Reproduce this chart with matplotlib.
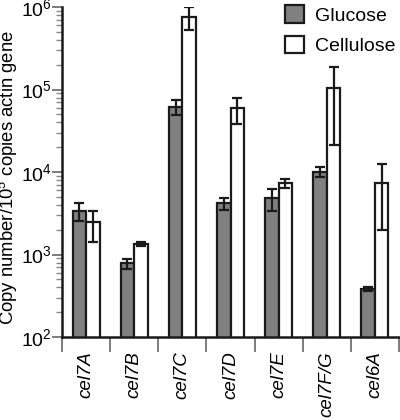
import numpy as np
import matplotlib
matplotlib.use('Agg')
import matplotlib.pyplot as plt
from matplotlib.ticker import LogLocator, NullFormatter, FixedLocator

plt.rcParams['font.family'] = ['Liberation Sans', 'DejaVu Sans']
plt.rcParams['mathtext.default'] = 'regular'

genes = ['cel7A', 'cel7B', 'cel7C', 'cel7D', 'cel7E', 'cel7F/G', 'cel6A']
glucose = [3400, 780, 62000, 4250, 4800, 10100, 380]
glucose_hi = [4170, 880, 74600, 4900, 6170, 11400, 400]
glucose_lo = [2550, 670, 49000, 3460, 3400, 8700, 360]
cellulose = [2450, 1340, 760000, 59000, 7300, 103000, 7300]
cellulose_hi = [3400, 1400, 990000, 79500, 8200, 186000, 12500]
cellulose_lo = [1430, 1280, 532000, 38000, 6450, 21200, 1980]

fig = plt.figure(figsize=(4, 4.2), dpi=100)
ax = fig.add_axes([0.155, 0.1976, 0.8425, 0.7857])

x = np.arange(len(genes))
w = 0.28
g_err = [np.array(glucose) - np.array(glucose_lo), np.array(glucose_hi) - np.array(glucose)]
c_err = [np.array(cellulose) - np.array(cellulose_lo), np.array(cellulose_hi) - np.array(cellulose)]

ax.bar(x - w / 2, glucose, w, color='#808080', edgecolor='#1a1a1a', linewidth=1.6,
       label='Glucose', zorder=2)
ax.bar(x + w / 2, cellulose, w, color='white', edgecolor='#1a1a1a', linewidth=1.6,
       label='Cellulose', zorder=2)
ax.errorbar(x - w / 2, glucose, yerr=g_err, fmt='none', ecolor='#1a1a1a',
            elinewidth=1.6, capsize=3.8, capthick=1.6, zorder=3)
ax.errorbar(x + w / 2, cellulose, yerr=c_err, fmt='none', ecolor='#1a1a1a',
            elinewidth=1.6, capsize=3.8, capthick=1.6, zorder=3)

ax.set_yscale('log')
ax.set_ylim(1e2, 1e6)
ax.set_xlim(-0.5, len(genes) - 0.5)

ax.yaxis.set_major_locator(FixedLocator([1e2, 1e3, 1e4, 1e5, 1e6]))
ax.set_yticklabels(['10$^{2}$', '10$^{3}$', '10$^{4}$', '10$^{5}$', '10$^{6}$'], fontsize=14)
ax.yaxis.set_minor_locator(LogLocator(base=10, subs=np.arange(2, 10)))
ax.yaxis.set_minor_formatter(NullFormatter())
ax.tick_params(axis='y', which='major', length=7.5, width=1.2, color='#666666', pad=0)
ax.tick_params(axis='y', which='minor', length=4, width=1.0, color='#888888')

ax.set_xticks(x)
ax.set_xticklabels(genes, rotation=90, style='italic', fontsize=13.5)
ax.set_xticks(np.arange(len(genes) + 1) - 0.5, minor=True)
ax.tick_params(axis='x', which='major', length=0, pad=10)
ax.tick_params(axis='x', which='minor', length=11, width=1.2, color='#666666')

ax.set_ylabel('Copy number/10$^{5}$ copies actin gene', fontsize=13.3)
ax.yaxis.set_label_coords(-0.124, 0.482)

for s in ['top', 'right']:
    ax.spines[s].set_visible(False)
for s in ['left', 'bottom']:
    ax.spines[s].set_linewidth(1.8)
    ax.spines[s].set_color('#1a1a1a')

leg = ax.legend(loc='upper right', bbox_to_anchor=(1.024, 1.04), frameon=False,
                fontsize=14, handlelength=1.0, handleheight=1.0, handletextpad=0.55,
                labelspacing=0.55, borderaxespad=0.2)

fig.savefig('out.png', dpi=100)
